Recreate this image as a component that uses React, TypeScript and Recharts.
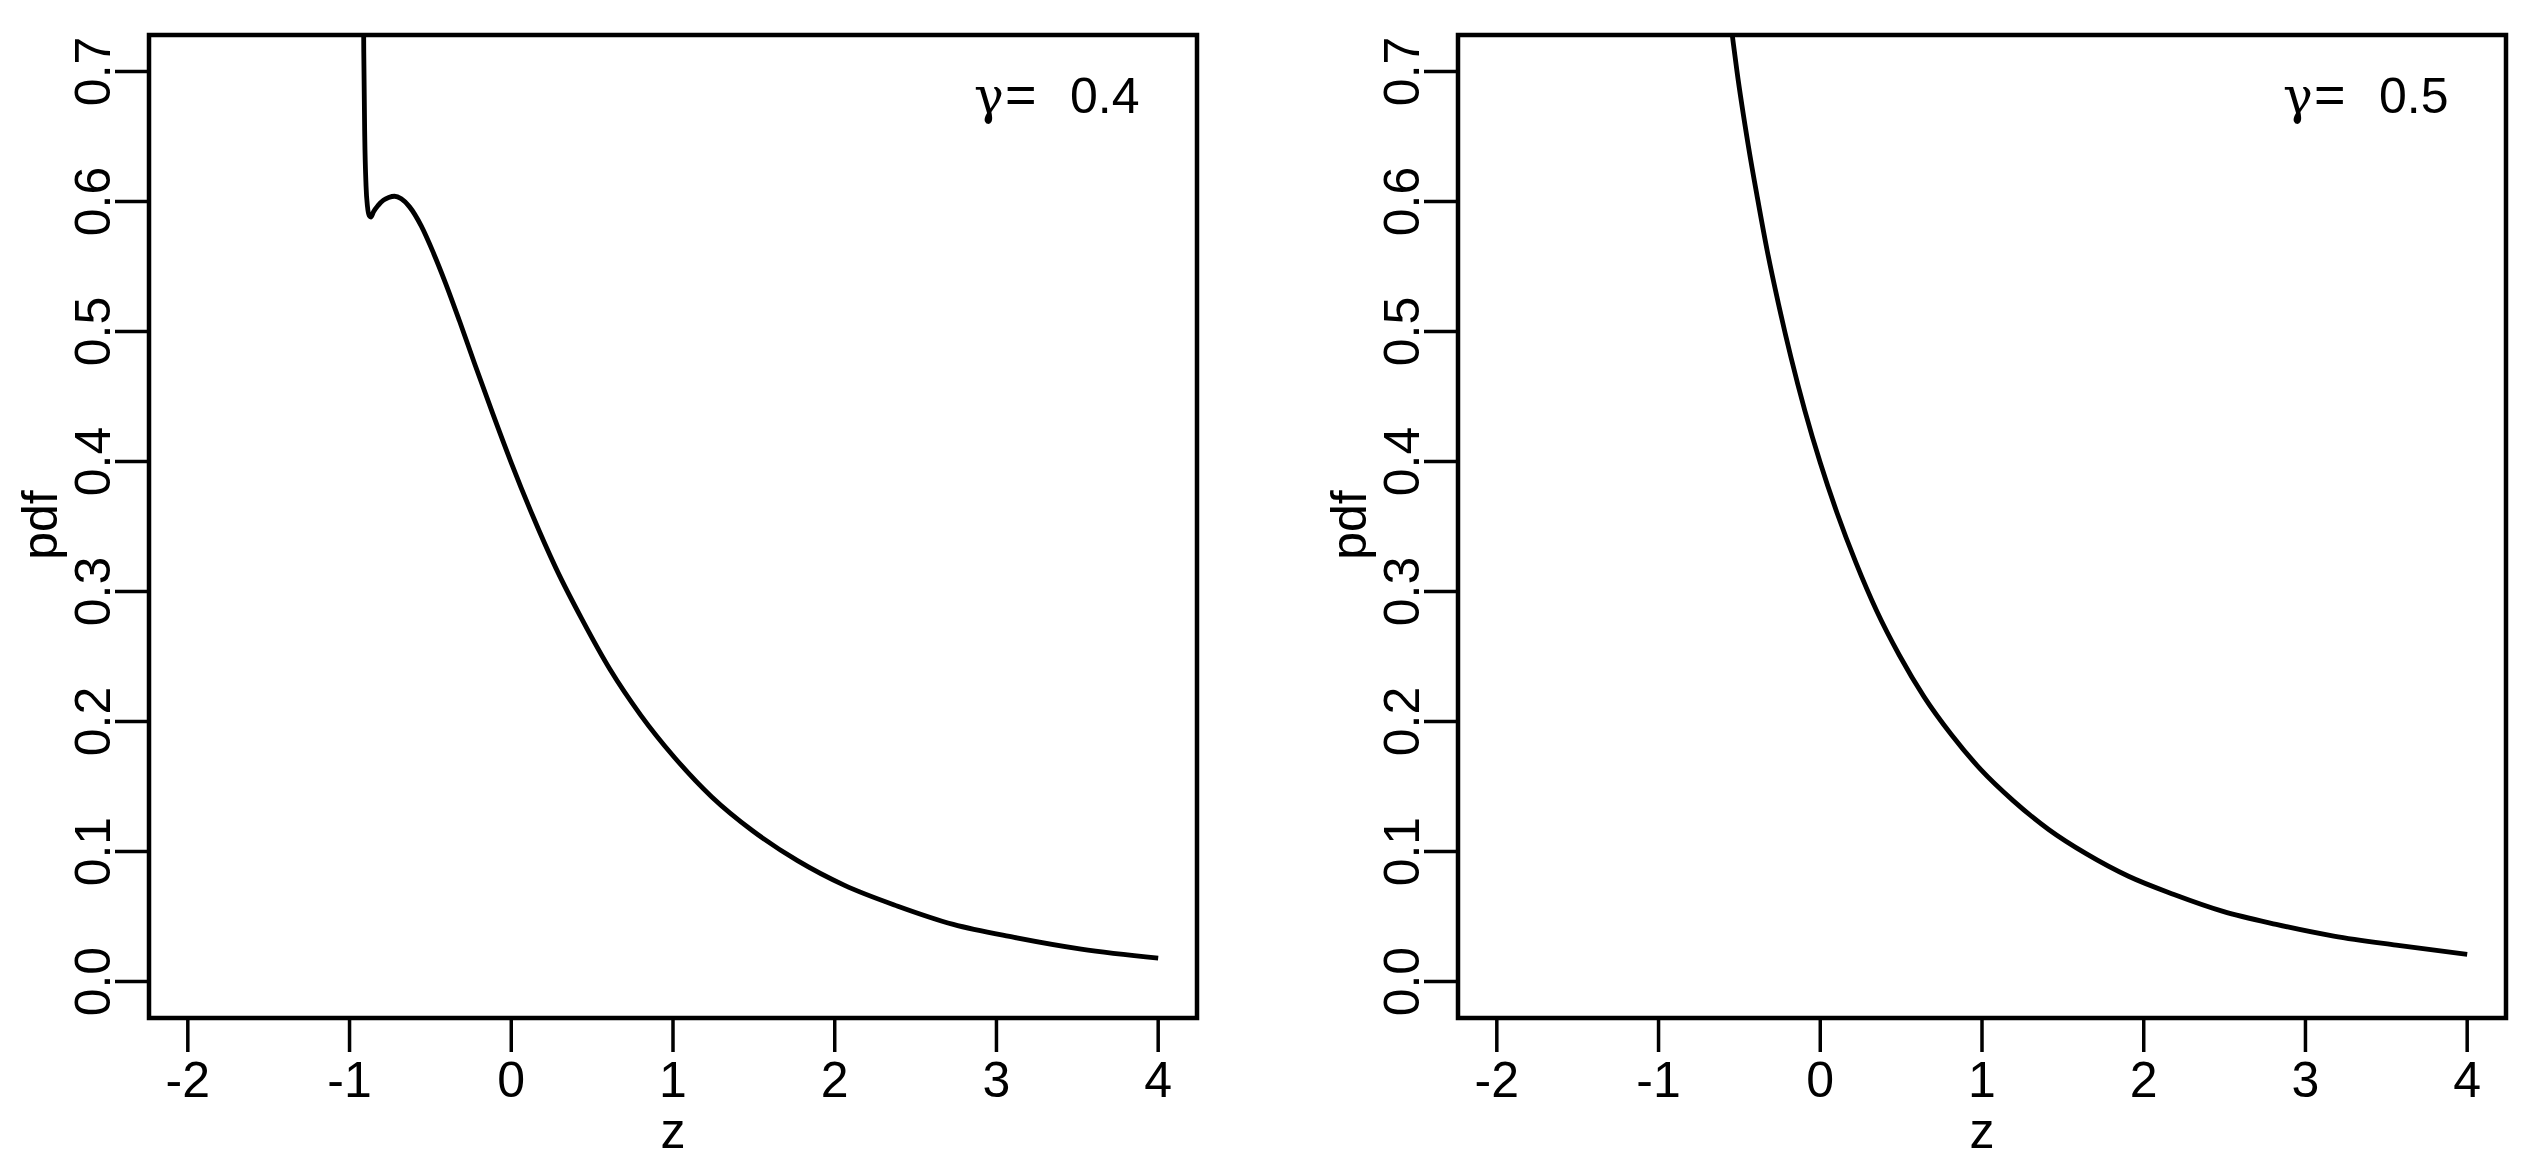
import { LineChart, Line, XAxis, YAxis, ReferenceArea } from 'recharts';

const zTicks = [-2, -1, 0, 1, 2, 3, 4];
const pdfTicks = [0, 0.1, 0.2, 0.3, 0.4, 0.5, 0.6, 0.7];
const pdfTickLabels = ['0.0', '0.1', '0.2', '0.3', '0.4', '0.5', '0.6', '0.7'];

const zDomain = [-2.24, 4.24];
const pdfDomain = [-0.028, 0.728];

// gamma = 0.4 (left panel)
const z04 = [
  -0.916, -0.912, -0.906, -0.898, -0.889, -0.878, -0.868, -0.852, -0.823, -0.79, -0.758, -0.722,
  -0.68, -0.63, -0.556, -0.48, -0.409, -0.32, -0.226, -0.115, 0, 0.13, 0.276, 0.44, 0.611, 0.8,
  1.012, 1.24, 1.492, 1.77, 2.061, 2.39, 2.733, 3.11, 3.524, 4.0,
];
const pdf04 = [
  0.8, 0.715, 0.65, 0.612, 0.596, 0.589, 0.588, 0.592, 0.597, 0.601, 0.603, 0.604,
  0.602, 0.596, 0.581, 0.56, 0.538, 0.508, 0.475, 0.437, 0.399, 0.359, 0.318, 0.278, 0.24, 0.205,
  0.172, 0.142, 0.116, 0.093, 0.074, 0.058, 0.044, 0.034, 0.025, 0.018,
];

// gamma = 0.5 (right panel)
const z05 = [
  -0.659, -0.607, -0.574, -0.536, -0.516, -0.445, -0.389, -0.328, -0.258, -0.181, -0.095, 0,
  0.105, 0.221, 0.349, 0.489, 0.642, 0.81, 0.993, 1.194, 1.412, 1.649, 1.906, 2.187, 2.49,
  2.819, 3.175, 3.561, 4.0,
];
const pdf05 = [
  0.885, 0.798, 0.759, 0.72, 0.701, 0.643, 0.603, 0.562, 0.521, 0.48, 0.439, 0.399,
  0.36, 0.322, 0.285, 0.251, 0.219, 0.19, 0.163, 0.139, 0.117, 0.098, 0.081, 0.067, 0.054,
  0.044, 0.035, 0.028, 0.021,
];

const gammaLabels = ['0.4', '0.5'];

const FONT = '"Liberation Sans", Arial, Helvetica, sans-serif';
const FS = 50;
const H = 1172;
const PLOT_TOP = 35;
const PLOT_BOTTOM = 1018;
const X_AXIS_H = 100;
const Y_AXIS_W = 100;
const TICK = 34;

const toRows = (zs: number[], ps: number[]) => zs.map((z, i) => ({ z, pdf: ps[i] }));

const XTick = (props: any) => {
  const { x, y, payload } = props;
  return (
    <text x={x} y={y + 45} textAnchor="middle" fontSize={FS} fontFamily={FONT} fill="#000">
      {payload.value}
    </text>
  );
};

const YTick = (props: any) => {
  const { x, y, payload, index } = props;
  return (
    <text
      x={x}
      y={y}
      transform={`rotate(-90 ${x} ${y})`}
      textAnchor="middle"
      fontSize={FS}
      fontFamily={FONT}
      fill="#000"
    >
      {pdfTickLabels[index] ?? payload.value}
    </text>
  );
};

interface PanelProps {
  left: number;
  width: number;
  plotLeft: number; // relative to panel
  plotRight: number; // relative to panel
  rows: { z: number; pdf: number }[];
  gamma: string;
}

function Panel({ left, width, plotLeft, plotRight, rows, gamma }: PanelProps) {
  const cx = (plotLeft + plotRight) / 2;
  return (
    <div style={{ position: 'absolute', left, top: 0, width, height: H }}>
      <LineChart
        width={width}
        height={H}
        data={rows}
        margin={{
          top: PLOT_TOP,
          right: width - plotRight,
          bottom: H - PLOT_BOTTOM - X_AXIS_H,
          left: plotLeft - Y_AXIS_W,
        }}
      >
        <XAxis
          dataKey="z"
          type="number"
          domain={zDomain}
          ticks={zTicks}
          interval={0}
          allowDataOverflow
          height={X_AXIS_H}
          axisLine={false}
          tickSize={TICK}
          tickMargin={0}
          tickLine={{ stroke: '#000', strokeWidth: 3.5 }}
          tick={<XTick />}
        />
        <YAxis
          type="number"
          domain={pdfDomain}
          ticks={pdfTicks}
          interval={0}
          allowDataOverflow
          width={Y_AXIS_W}
          axisLine={false}
          tickSize={TICK}
          tickMargin={5}
          tickLine={{ stroke: '#000', strokeWidth: 3.5 }}
          tick={<YTick />}
        />
        <ReferenceArea
          x1={zDomain[0]}
          x2={zDomain[1]}
          y1={pdfDomain[0]}
          y2={pdfDomain[1]}
          fill="none"
          stroke="#000"
          strokeWidth={4.5}
          ifOverflow="visible"
        />
        <Line
          dataKey="pdf"
          type="monotone"
          stroke="#000"
          strokeWidth={4.8}
          dot={false}
          activeDot={false}
          isAnimationActive={false}
        />
      </LineChart>
      <svg
        width={width}
        height={H}
        style={{ position: 'absolute', left: 0, top: 0, pointerEvents: 'none' }}
      >
        <text x={cx} y={1148} textAnchor="middle" fontSize={FS} fontFamily={FONT} fill="#000">
          z
        </text>
        <text
          x={plotLeft - 92}
          y={525}
          transform={`rotate(-90 ${plotLeft - 92} 525)`}
          textAnchor="middle"
          fontSize={FS}
          fontFamily={FONT}
          fill="#000"
        >
          pdf
        </text>
        <text y={113} fontSize={FS} fill="#000">
          <tspan x={plotRight - 223} fontFamily='"DejaVu Serif", "Liberation Serif", serif' fontSize={50}>
            γ
          </tspan>
          <tspan x={plotRight - 192} fontFamily={FONT} fontSize={54}>=</tspan>
          <tspan x={plotRight - 127} fontFamily={FONT}>{gamma}</tspan>
        </text>
      </svg>
    </div>
  );
}

export default function App() {
  return (
    <div style={{ position: 'absolute', left: 0, top: 0, width: 2537, height: H, background: '#fff' }}>
      <Panel left={0} width={1268} plotLeft={149} plotRight={1197} rows={toRows(z04, pdf04)} gamma={gammaLabels[0]} />
      <Panel left={1268} width={1269} plotLeft={190} plotRight={1238} rows={toRows(z05, pdf05)} gamma={gammaLabels[1]} />
    </div>
  );
}
